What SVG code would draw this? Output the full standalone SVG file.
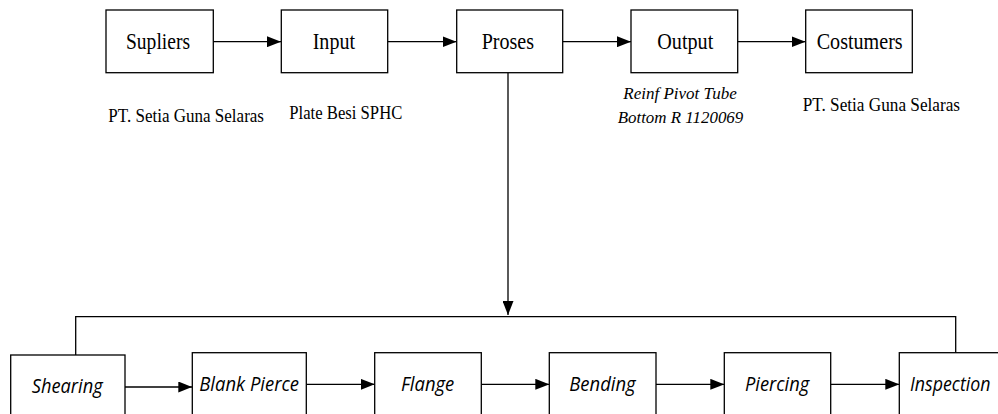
<svg xmlns="http://www.w3.org/2000/svg" width="998" height="414" viewBox="0 0 998 414">
<defs>
<style>
.box{fill:#fff;stroke:#000;stroke-width:1.3}
.ln{fill:none;stroke:#000;stroke-width:1.3}
.t{font-family:"Liberation Serif",serif;font-size:23.5px;fill:#000;text-anchor:start}
.lb{font-family:"Liberation Serif",serif;font-size:19px;fill:#000}
.li{font-family:"Liberation Serif",serif;font-size:17.5px;font-style:italic;fill:#000}
.b{font-family:"Open Sans","Noto Sans",sans-serif;font-size:20px;font-style:italic;fill:#000}
</style>
<marker id="ah" markerWidth="14" markerHeight="11" refX="14" refY="5.5" orient="auto" markerUnits="userSpaceOnUse">
<path d="M0,0 L14,5.5 L0,11 Z" fill="#000"/>
</marker>
</defs>
<rect width="998" height="414" fill="#fff"/>
<g id="connectors">
<line class="ln" x1="213" y1="41.7" x2="281" y2="41.7" marker-end="url(#ah)"/>
<line class="ln" x1="388" y1="41.7" x2="456.5" y2="41.7" marker-end="url(#ah)"/>
<line class="ln" x1="563" y1="41.7" x2="631" y2="41.7" marker-end="url(#ah)"/>
<line class="ln" x1="738" y1="41.7" x2="805.5" y2="41.7" marker-end="url(#ah)"/>
<line class="ln" x1="508" y1="72.7" x2="508" y2="315" marker-end="url(#ah)"/>
<polyline class="ln" points="75.7,355 75.7,316.7 955.7,316.7 955.7,352.7"/>
<line class="ln" x1="125" y1="387" x2="192.3" y2="387" marker-end="url(#ah)"/>
<line class="ln" x1="306.3" y1="384.3" x2="374.7" y2="384.3" marker-end="url(#ah)"/>
<line class="ln" x1="481.3" y1="384.3" x2="549.3" y2="384.3" marker-end="url(#ah)"/>
<line class="ln" x1="656" y1="384.3" x2="724.3" y2="384.3" marker-end="url(#ah)"/>
<line class="ln" x1="830.7" y1="384.3" x2="899.3" y2="384.3" marker-end="url(#ah)"/>
</g>
<g id="supliers">
<rect class="box" x="106" y="10" width="107.3" height="62.7"/>
<text class="t" x="126" y="49.3" textLength="64" lengthAdjust="spacingAndGlyphs">Supliers</text>
</g>
<g id="input">
<rect class="box" x="281.3" y="10" width="106.4" height="62.7"/>
<text class="t" x="312.7" y="49.3" textLength="42.3" lengthAdjust="spacingAndGlyphs">Input</text>
</g>
<g id="proses">
<rect class="box" x="456.7" y="10" width="106" height="62.7"/>
<text class="t" x="481.7" y="49.3" textLength="52.3" lengthAdjust="spacingAndGlyphs">Proses</text>
</g>
<g id="output">
<rect class="box" x="631" y="10" width="106.7" height="62.7"/>
<text class="t" x="657.3" y="49.3" textLength="56" lengthAdjust="spacingAndGlyphs">Output</text>
</g>
<g id="costumers">
<rect class="box" x="805.7" y="10" width="106.6" height="62.7"/>
<text class="t" x="816.7" y="49.3" textLength="86" lengthAdjust="spacingAndGlyphs">Costumers</text>
</g>
<g id="labels">
<text class="lb" x="108.3" y="121.5" textLength="155.7" lengthAdjust="spacingAndGlyphs">PT. Setia Guna Selaras</text>
<text class="lb" x="289.3" y="119" textLength="113" lengthAdjust="spacingAndGlyphs">Plate Besi SPHC</text>
<text class="li" x="623.3" y="99.3" textLength="113.4" lengthAdjust="spacingAndGlyphs">Reinf Pivot Tube</text>
<text class="li" x="617.7" y="123.3" textLength="125.6" lengthAdjust="spacingAndGlyphs">Bottom R 1120069</text>
<text class="lb" x="802.7" y="111" textLength="157.3" lengthAdjust="spacingAndGlyphs">PT. Setia Guna Selaras</text>
</g>
<g id="shearing">
<rect class="box" x="10.7" y="355" width="114.3" height="70"/>
<text class="b" x="31.7" y="393.3" textLength="71" lengthAdjust="spacingAndGlyphs">Shearing</text>
</g>
<g id="blank-pierce">
<rect class="box" x="192.3" y="352.7" width="114" height="70"/>
<text class="b" x="199.3" y="391" textLength="99.7" lengthAdjust="spacingAndGlyphs">Blank Pierce</text>
</g>
<g id="flange">
<rect class="box" x="374.7" y="352.7" width="106.6" height="70"/>
<text class="b" x="401" y="391" textLength="53.3" lengthAdjust="spacingAndGlyphs">Flange</text>
</g>
<g id="bending">
<rect class="box" x="549.3" y="352.7" width="106.7" height="70"/>
<text class="b" x="569.3" y="391" textLength="66.4" lengthAdjust="spacingAndGlyphs">Bending</text>
</g>
<g id="piercing">
<rect class="box" x="724.3" y="352.7" width="106.4" height="70"/>
<text class="b" x="745" y="391" textLength="64.3" lengthAdjust="spacingAndGlyphs">Piercing</text>
</g>
<g id="inspection">
<rect class="box" x="899.3" y="352.7" width="110" height="70"/>
<text class="b" x="910" y="391" textLength="80.5" lengthAdjust="spacingAndGlyphs">Inspection</text>
</g>
</svg>
